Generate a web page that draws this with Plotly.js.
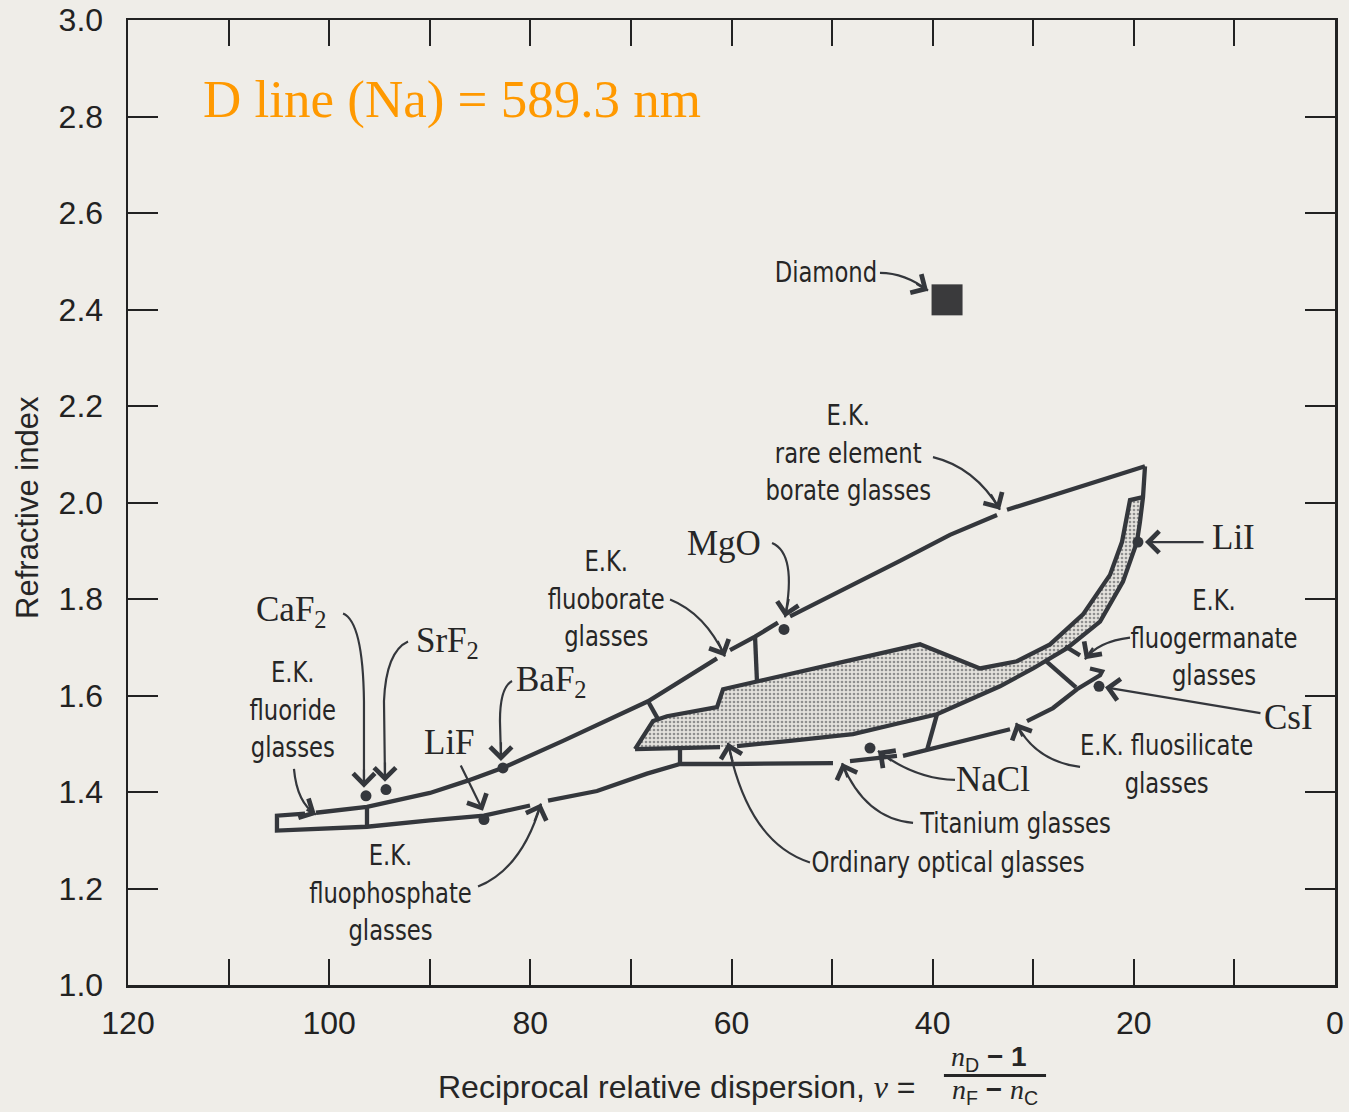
<!DOCTYPE html>
<html>
<head>
<meta charset="utf-8">
<script src="https://cdn.plot.ly/plotly-3.0.1.min.js"></script>
<style>
  html, body { margin: 0; padding: 0; background: #efede8; }
  #chart { width: 1349px; height: 1112px; }
</style>
</head>
<body>
<div id="chart"></div>
<script>
// ---------- data (nu = reciprocal relative dispersion, n = refractive index) ----------
// upper envelope (gaps where label arrows touch)
const upperNu = [101.31, 96.24, 89.98, 86.30, 82.72, 76.75, 68.30, 61.44, null, 60.15, 57.66, 55.38, null, 54.18, 48.22, 43.25, 38.28, 33.60, null, 32.61, 25.35, 18.89];
const upperN  = [1.357, 1.369, 1.398, 1.423, 1.450, 1.506, 1.588, 1.677, null, 1.694, 1.722, 1.751, null, 1.764, 1.826, 1.879, 1.933, 1.974, null, 1.985, 2.032, 2.075];
// lower envelope incl. left end box and fluogermanate hook
const lowerNu = [102.40, 105.19, 105.19, 96.24, 89.98, 84.61, 80.03, null, 78.24, 73.37, 68.40, 65.12, 60.15, 49.91, null, 48.22, 43.55, null, 42.95, 40.56, 36.29, 32.31, null, 30.62, 28.04, 25.65, 23.36, 23.16, 24.36];
const lowerN  = [1.355, 1.351, 1.320, 1.328, 1.341, 1.351, 1.372, null, 1.382, 1.402, 1.438, 1.458, 1.458, 1.460, null, 1.464, 1.475, null, 1.475, 1.487, 1.508, 1.530, null, 1.547, 1.574, 1.613, 1.642, 1.650, 1.656];
// tip of envelope (start of the outer band edge)
const tipNu = [18.89];
const tipN  = [2.075];
// outer edge of shaded region (band top -> left tip)
const outerNu = [19.09, 19.39, 19.69, 21.08, 23.36, 26.64, 30.02, 33.31, 36.59, 39.57, 43.25, 47.92, 54.18, 59.45, null, 61.14, 69.59];
const outerN  = [2.011, 1.960, 1.918, 1.836, 1.753, 1.698, 1.656, 1.619, 1.588, 1.561, 1.543, 1.520, 1.506, 1.495, null, 1.493, 1.489];
// upper/inner edge of shaded region (left tip -> band top)
const innerNu = [69.59, 67.80, 66.41, 61.44, 60.84, 41.26, 35.29, 31.62, 28.33, 25.05, 22.37, 21.18, 20.38, 19.09];
const innerN  = [1.489, 1.547, 1.557, 1.576, 1.613, 1.706, 1.656, 1.671, 1.706, 1.768, 1.850, 1.918, 2.005, 2.011];
// dividing strokes between glass families
const dividerNu = [96.24, 96.24, null, 68.30, 67.31, null, 57.66, 57.47, null, 65.12, 65.12, null, 39.57, 40.56, null, 26.84, 25.35, null, 28.73, 25.75];
const dividerN  = [1.369, 1.328, null, 1.588, 1.551, null, 1.722, 1.630, null, 1.489, 1.458, null, 1.561, 1.487, null, 1.702, 1.683, null, 1.671, 1.617];
// crystals
const crystalNames = ["CaF2", "SrF2", "BaF2", "LiF", "MgO", "NaCl", "LiI", "CsI"];
const crystalNu = [96.34, 94.35, 82.72, 84.61, 54.78, 46.23, 19.59, 23.46];
const crystalN  = [1.392, 1.405, 1.450, 1.343, 1.737, 1.491, 1.918, 1.619];
const diamondNu = [38.57];
const diamondN  = [2.420];
// axis ticks
const xTickVals = [0, 10, 20, 30, 40, 50, 60, 70, 80, 90, 100, 110, 120];
const xTickText = ["0", "", "20", "", "40", "", "60", "", "80", "", "100", "", "120"];
const yTickVals = [1.0, 1.2, 1.4, 1.6, 1.8, 2.0, 2.2, 2.4, 2.6, 2.8, 3.0];
const yTickText = ["1.0", "1.2", "1.4", "1.6", "1.8", "2.0", "2.2", "2.4", "2.6", "2.8", "3.0"];

// ---------- styles ----------
const INK = '#34373c';
const BG = '#efede8';
const LW = 4.3;
const SANS = 'Liberation Sans, Arial, sans-serif';
const NARROW = 'Liberation Sans Narrow, DejaVu Sans Condensed, Liberation Sans, sans-serif';
const SERIF = 'Liberation Serif, Times New Roman, serif';

// fill polygon of the shaded (ordinary optical + band) region
const fillNu = innerNu.concat(outerNu.filter(v => v !== null));
const fillN  = innerN.concat(outerN.filter(v => v !== null));

const line = (x, y) => ({x, y, type: 'scatter', mode: 'lines', hoverinfo: 'skip', connectgaps: false,
  line: {color: INK, width: LW}, showlegend: false});

const traces = [
  {x: fillNu, y: fillN, type: 'scatter', mode: 'lines', fill: 'toself', line: {width: 0, color: 'rgba(0,0,0,0)'},
   fillcolor: '#d9d7d2',
   fillpattern: {shape: '.', fgcolor: '#8f8f8f', bgcolor: '#e4e2dd', size: 4, solidity: 0.35},
   hoverinfo: 'skip', showlegend: false},
  line(upperNu, upperN),
  line(lowerNu, lowerN),
  line(tipNu.concat(outerNu), tipN.concat(outerN)),
  line(innerNu, innerN),
  line(dividerNu, dividerN),
  {x: crystalNu, y: crystalN, text: crystalNames, type: 'scatter', mode: 'markers',
   marker: {color: INK, size: 11}, showlegend: false, hoverinfo: 'text'},
  {x: diamondNu, y: diamondN, type: 'scatter', mode: 'markers',
   marker: {color: '#3a3a3c', size: 31, symbol: 'square'}, showlegend: false, hoverinfo: 'skip'}
];

// ---------- annotations: labels ----------
const lab = (x, y, text, font, size, extra) => Object.assign({x, y, xref: 'x', yref: 'y', text, showarrow: false,
  font: {family: font, size: size, color: '#262626'}, xanchor: 'center', yanchor: 'middle'}, extra || {});

const annotations = [
  lab(87.79, 2.835, 'D line (Na) = 589.3 nm', SERIF, 53, {font: {family: SERIF, size: 53, color: '#ff9900'}}),
  lab(103.70, 1.774, 'CaF<sub>2</sub>', SERIF, 35),
  lab(88.28, 1.710, 'SrF<sub>2</sub>', SERIF, 35),
  lab(77.85, 1.630, 'BaF<sub>2</sub>', SERIF, 35),
  lab(87.99, 1.502, 'LiF', SERIF, 35),
  lab(60.75, 1.916, 'MgO', SERIF, 35),
  lab(34.00, 1.425, 'NaCl', SERIF, 35),
  lab(10.14, 1.927, 'LiI', SERIF, 35),
  lab(4.67, 1.555, 'CsI', SERIF, 35),
  lab(103.60, 1.572, 'E.K.<br>fluoride<br>glasses', NARROW, 29),
  lab(93.95, 1.192, 'E.K.<br>fluophosphate<br>glasses', NARROW, 29),
  lab(72.48, 1.801, 'E.K.<br>fluoborate<br>glasses', NARROW, 29),
  lab(48.42, 2.104, 'E.K.<br>rare element<br>borate glasses', NARROW, 29),
  lab(50.60, 2.478, 'Diamond', NARROW, 29),
  lab(12.03, 1.720, 'E.K.<br>fluogermanate<br>glasses', NARROW, 29),
  lab(16.80, 1.458, 'E.K. fluosilicate<br>glasses', NARROW, 29),
  lab(31.81, 1.336, 'Titanium glasses', NARROW, 29),
  lab(38.48, 1.254, 'Ordinary optical glasses', NARROW, 29),
  // axis titles
  {xref: 'paper', yref: 'paper', x: -0.0829, y: 0.4954, text: 'Refractive index', textangle: -90, showarrow: false,
   font: {family: SANS, size: 31, color: '#262626'}, xanchor: 'center', yanchor: 'middle'},
  {xref: 'paper', yref: 'paper', x: 0.4548, y: -0.1053,
   text: 'Reciprocal relative dispersion, <span style="font-family:Liberation Serif"><i>ν</i></span> =', showarrow: false,
   font: {family: SANS, size: 32, color: '#262626'}, xanchor: 'center', yanchor: 'middle'},
  {xref: 'paper', yref: 'paper', x: 0.7135, y: -0.0764,
   text: '<i>n</i><span style="font-family:Liberation Sans"><sub>D</sub> <b>−</b> <b>1</b></span>', showarrow: false,
   font: {family: SERIF, size: 28, color: '#262626'}, xanchor: 'center', yanchor: 'middle'},
  {xref: 'paper', yref: 'paper', x: 0.7183, y: -0.1105,
   text: '<i>n</i><span style="font-family:Liberation Sans"><sub>F</sub> <b>−</b> </span><i>n</i><span style="font-family:Liberation Sans"><sub>C</sub></span>', showarrow: false,
   font: {family: SERIF, size: 28, color: '#262626'}, xanchor: 'center', yanchor: 'middle'}
];

// ---------- arrows ----------
const ARROW = '#34373c';
const head = (x, y, ax, ay) => ({x, y, ax, ay, xref: 'x', yref: 'y', axref: 'x', ayref: 'y', text: '',
  showarrow: true, arrowhead: 4, arrowsize: 1.9, arrowwidth: 2.2, arrowcolor: ARROW, standoff: 0, startstandoff: 0});
annotations.push(
  head(96.54, 1.409, 96.54, 1.450),   // CaF2
  head(94.45, 1.421, 94.45, 1.464),   // SrF2
  head(82.92, 1.464, 82.92, 1.506),   // BaF2
  head(84.71, 1.361, 86.99, 1.458),   // LiF
  head(101.31, 1.353, 102.40, 1.365), // fluoride
  head(78.94, 1.376, 79.64, 1.336),   // fluophosphate
  head(60.65, 1.681, 61.44, 1.716),   // fluoborate
  head(54.68, 1.762, 54.28, 1.803),   // MgO
  head(33.31, 1.985, 34.30, 2.020),   // rare element
  head(40.46, 2.439, 41.76, 2.455),   // Diamond
  head(18.89, 1.918, 12.92, 1.918),   // LiI
  head(24.86, 1.675, 23.96, 1.702),   // fluogermanate
  head(22.87, 1.617, 7.26, 1.563),    // CsI
  head(31.71, 1.543, 31.02, 1.512),   // fluosilicate
  head(45.44, 1.485, 43.94, 1.462),   // NaCl
  head(49.01, 1.460, 48.42, 1.427),   // Titanium
  head(60.35, 1.502, 59.85, 1.460)    // Ordinary
);

const curve = (p) => ({type: 'path', xref: 'x', yref: 'y', path: p, line: {color: ARROW, width: 2.2}});
const shapes = [
  curve('M98.62,1.770 Q96.64,1.753 96.54,1.588 L96.54,1.415'),
  curve('M92.16,1.712 Q94.35,1.691 94.55,1.588 L94.45,1.427'),
  curve('M81.82,1.630 Q83.02,1.617 83.02,1.547 L82.92,1.470'),
  curve('M103.50,1.448 Q103.20,1.378 101.31,1.353'),
  curve('M85.20,1.204 Q80.83,1.241 78.94,1.376'),
  curve('M66.11,1.799 Q62.63,1.770 60.65,1.681'),
  curve('M55.97,1.916 Q53.49,1.894 54.68,1.762'),
  curve('M39.97,2.094 Q35.79,2.073 33.31,1.985'),
  curve('M45.24,2.476 Q42.75,2.476 40.46,2.439'),
  curve('M20.38,1.720 Q23.56,1.712 24.86,1.675'),
  curve('M25.35,1.452 Q29.83,1.464 31.71,1.543'),
  curve('M37.78,1.425 Q41.76,1.427 45.44,1.485'),
  curve('M41.95,1.336 Q46.73,1.345 49.01,1.460'),
  curve('M52.20,1.254 Q58.36,1.295 60.35,1.502'),
  // fraction bar of the x-axis title
  {type: 'line', xref: 'paper', yref: 'paper', x0: 0.676, x1: 0.7606, y0: -0.0939, y1: -0.0939,
   line: {color: '#262626', width: 3}}
];

const axisCommon = {
  showgrid: false, zeroline: false, showline: true, linecolor: '#222', linewidth: 2.5,
  mirror: 'ticks', ticks: 'inside', tickcolor: '#222', tickwidth: 2, ticklabeloverflow: 'allow',
  tickfont: {family: SANS, size: 32, color: '#222'}, fixedrange: true
};

const layout = {
  width: 1349, height: 1112,
  margin: {l: 128, r: 14, t: 20, b: 127},
  paper_bgcolor: BG, plot_bgcolor: BG,
  showlegend: false,
  xaxis: Object.assign({}, axisCommon, {range: [120, 0], tickmode: 'array', tickvals: xTickVals, ticktext: xTickText,
    ticklen: 26, ticklabelstandoff: 8}),
  yaxis: Object.assign({}, axisCommon, {range: [1, 3], tickmode: 'array', tickvals: yTickVals, ticktext: yTickText,
    ticklen: 30, ticklabelstandoff: 16}),
  annotations, shapes
};

Plotly.newPlot('chart', traces, layout, {displayModeBar: false, staticPlot: true}).then(gd => {
  // emulate the condensed label typeface: narrow the sans labels horizontally about their centres
  gd.querySelectorAll('.annotation-text').forEach(t => {
    const fam = t.style.fontFamily || '';
    if (fam.indexOf('Narrow') >= 0) {
      const bb = t.getBBox();
      const cx = bb.x + bb.width / 2;
      const prev = t.getAttribute('transform') || '';
      t.setAttribute('transform', prev + ` translate(${cx},0) scale(0.87,1) translate(${-cx},0)`);
    }
  });
});
</script>
</body>
</html>
